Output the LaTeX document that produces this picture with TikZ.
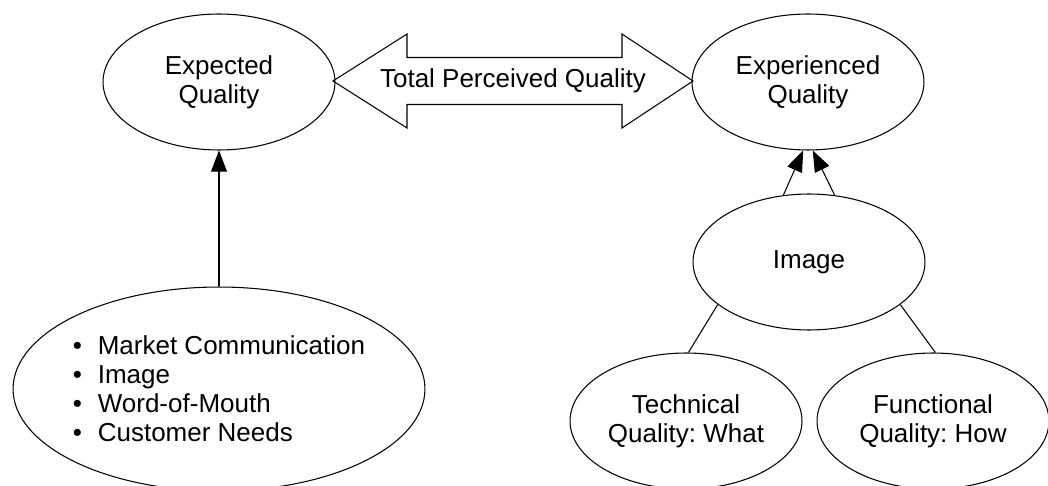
\documentclass[tikz,border=0pt]{standalone}
\usepackage{fontspec}
\setmainfont{Liberation Sans}
\usetikzlibrary{arrows.meta,shapes.geometric}

\begin{document}
\begin{tikzpicture}[x=0.02cm,y=-0.02cm,line width=0.6pt,
  font=\fontsize{14.8}{16.5}\selectfont\frenchspacing,
  oval/.style={draw,ellipse,inner sep=0pt,minimum width=4.64cm,minimum height=2.72cm,align=center},
  link/.style={-{Triangle[length=12pt,width=9pt]}}]
\useasboundingbox (0,0) rectangle (1048,486);

\node[oval] (eq) at (219,82) {Expected\\Quality};
\node[oval] (xq) at (808,82) {Experienced\\Quality};
\node[oval] (img) at (809,262) {Image};
\node[oval] (tq) at (686,421) {Technical\\Quality: What};
\node[oval] (fq) at (933,421) {Functional\\Quality: How};
\node[oval,minimum width=8.24cm,minimum height=4.08cm] (mix) at (219,389) {};
\node[align=left] (mixlist) at (mix)
  {\makebox[0.5cm][l]{\textbullet}Market Communication\\
   \makebox[0.5cm][l]{\textbullet}Image\\
   \makebox[0.5cm][l]{\textbullet}Word-of-Mouth\\
   \makebox[0.5cm][l]{\textbullet}Customer Needs};

% total perceived quality
\draw (333,81) -- (407,34) -- (407,57.5) -- (622,57.5) -- (622,34) -- (693,81)
  -- (622,128) -- (622,104.5) -- (407,104.5) -- (407,128) -- cycle;
\node (tpq) at (513,81) {Total Perceived Quality};

\draw[link] (mix) -- (eq);
\draw[link] (img.111) -- (xq.266);
\draw[link] (img.69) -- (xq.274);
\draw (img.205) -- (tq.88);
\draw (img.335) -- (fq.88);
\end{tikzpicture}
\end{document}
